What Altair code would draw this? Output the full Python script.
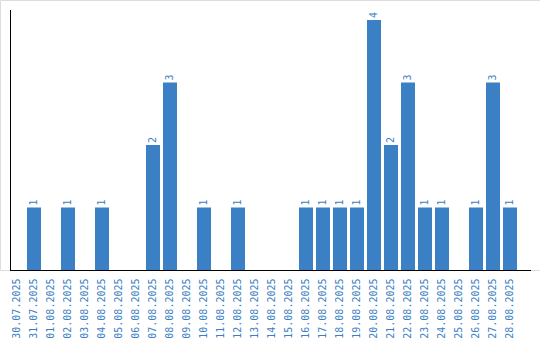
import altair as alt
import pandas as pd

dates = ["30.07.2025", "31.07.2025", "01.08.2025", "02.08.2025", "03.08.2025",
         "04.08.2025", "05.08.2025", "06.08.2025", "07.08.2025", "08.08.2025",
         "09.08.2025", "10.08.2025", "11.08.2025", "12.08.2025", "13.08.2025",
         "14.08.2025", "15.08.2025", "16.08.2025", "17.08.2025", "18.08.2025",
         "19.08.2025", "20.08.2025", "21.08.2025", "22.08.2025", "23.08.2025",
         "24.08.2025", "25.08.2025", "26.08.2025", "27.08.2025", "28.08.2025"]
counts = [0, 1, 0, 1, 0, 1, 0, 0, 2, 3,
          0, 1, 0, 1, 0, 0, 0, 1, 1, 1,
          1, 4, 2, 3, 1, 1, 0, 1, 3, 1]

df = pd.DataFrame({"date": dates, "count": counts})
blue = "#3b7fc4"
font = "DejaVu Sans Mono"

x = alt.X("date:N", sort=dates,
          scale=alt.Scale(domain=dates, range=[8.5, 518.5], paddingInner=0.176, paddingOuter=0.088),
          axis=alt.Axis(title=None, labelAngle=270, labelAlign="right", labelBaseline="middle",
                        labelPadding=8, labelColor=blue, labelFont=font, labelFontSize=10,
                        ticks=False, domain=False, labelOverlap=False))
y = alt.Y("count:Q", scale=alt.Scale(domain=[0, 4.32], nice=False, zero=True),
          axis=None)

bars = alt.Chart(df).mark_bar(color=blue).encode(x=x, y=y)
labels = alt.Chart(df).transform_filter("datum.count > 0").mark_text(
    angle=270, align="left", baseline="middle", yOffset=-2,
    color=blue, font=font, fontSize=10
).encode(x=x, y=y, text="count:Q")

xline = alt.Chart(df).mark_rule(color="black", strokeWidth=1).encode(
    x=alt.value(10), x2=alt.value(531), y=alt.value(270.5))
yline = alt.Chart(df).mark_rule(color="black", strokeWidth=1).encode(
    x=alt.value(10.5), y=alt.value(10), y2=alt.value(271))

chart = alt.layer(bars, labels, xline, yline).properties(
    width=540, height=270,
    autosize=alt.AutoSizeParams(type="none"),
    padding={"left": 0, "top": 0, "right": 0, "bottom": 70},
).configure_view(stroke=None).configure(background="white")

chart.save("out.html", embed_options={"renderer": "svg", "actions": False})
